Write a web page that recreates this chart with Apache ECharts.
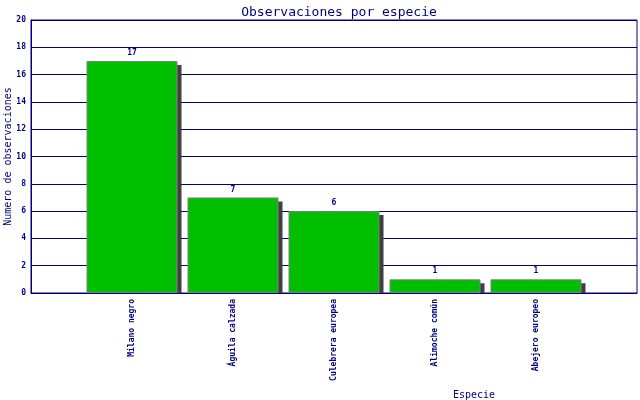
<!DOCTYPE html>
<html><head><meta charset="utf-8">
<script src="https://cdn.jsdelivr.net/npm/echarts@6/dist/echarts.min.js"></script>
<style>html,body{margin:0;padding:0;background:#fff}#c{width:640px;height:400px}</style>
</head><body><div id="c"></div>
<script>
const categories = ['Milano negro', 'Águila calzada', 'Culebrera europea', 'Alimoche común', 'Abejero europeo'];
const values = [17, 7, 6, 1, 1];
const yTicks = [0, 2, 4, 6, 8, 10, 12, 14, 16, 18, 20];

const navy = '#000080';
const font = 'DejaVu Sans Mono';
const BW = 91;

const chart = echarts.init(document.getElementById('c'));
chart.setOption({
  animation: false,
  backgroundColor: '#fff',
  title: {
    text: 'Observaciones por especie', left: 334, top: 1, textAlign: 'center',
    textStyle: { fontFamily: font, fontSize: 13, fontWeight: 'normal', color: navy }
  },
  grid: { left: 31, right: 3, top: 20, bottom: 107, containLabel: false, outerBoundsMode: 'none',
          show: true, borderColor: navy, borderWidth: 1 },
  xAxis: {
    type: 'category', boundaryGap: false,
    data: [''].concat(categories, ['']),
    name: 'Especie', nameLocation: 'middle', nameGap: 97, nameMoveOverlap: false,
    nameTextStyle: { fontFamily: font, fontSize: 10, color: navy, padding: [0, 0, 0, 280] },
    axisLine: { lineStyle: { color: navy, width: 1 } },
    axisTick: { show: false },
    axisLabel: { interval: 0, rotate: 90, margin: 6, fontFamily: font, fontSize: 8, fontWeight: 'bold', color: navy },
    splitLine: { show: false }
  },
  yAxis: {
    type: 'value', min: yTicks[0], max: yTicks[yTicks.length - 1], interval: 2,
    name: 'Numero de observaciones', nameLocation: 'middle', nameGap: 18, nameMoveOverlap: false,
    nameTextStyle: { fontFamily: font, fontSize: 10, color: navy },
    axisLine: { show: true, lineStyle: { color: navy, width: 1 } },
    axisTick: { show: false },
    axisLabel: { margin: 5, fontFamily: font, fontSize: 8, fontWeight: 'bold', color: navy },
    splitLine: { lineStyle: { color: navy, width: 1 } }
  },
  series: [
    {
      type: 'custom', z: 1,
      data: values.map((v, i) => [i + 1, v]),
      renderItem: function (params, api) {
        const p = api.coord([api.value(0), api.value(1)]);
        const b = api.coord([api.value(0), 0]);
        return {
          type: 'rect',
          shape: { x: p[0] - BW / 2 + 4, y: p[1] + 4, width: BW, height: Math.max(0, b[1] - p[1] - 4) },
          style: { fill: '#404040' }
        };
      }
    },
    {
      type: 'bar', z: 3, barWidth: BW,
      data: ['-'].concat(values, ['-']),
      itemStyle: { color: '#00bf00', borderColor: '#808080', borderWidth: 1 },
      label: { show: true, position: 'top', distance: 4, fontFamily: font, fontSize: 8, fontWeight: 'bold', color: navy }
    }
  ]
});
</script></body></html>
